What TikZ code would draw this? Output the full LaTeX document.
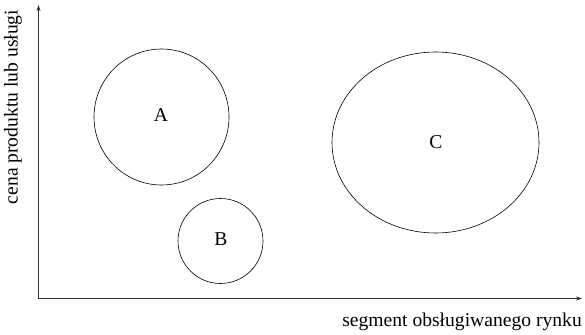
\documentclass[tikz,border=0pt]{standalone}
\usepackage{fontspec}
\setmainfont{Liberation Serif}
\usetikzlibrary{arrows.meta}
\begin{document}
\begin{tikzpicture}[x=1pt,y=-1pt,
  axis/.style={line width=0.9pt,draw=black!80,-{Stealth[length=6pt,width=4pt]}},
  blob/.style={draw,line width=0.6pt},
  lbl/.style={font=\fontsize{19.6}{22}\selectfont,inner sep=0pt}]
\useasboundingbox (0,0) rectangle (585,334);
% axes
\coordinate (O) at (38.5,298.5);
\coordinate (Ytop) at (38.5,5);
\coordinate (Xend) at (582,298.5);
\draw[axis] (O) -- (Ytop);
\draw[axis] (O) -- (Xend);
% axis labels
\node[lbl,rotate=90,anchor=center] (ylab) at (13,107) {cena produktu lub usługi};
\node[lbl,anchor=east] (xlab) at (582,322) {segment obsługiwanego rynku};
% market segments
\draw[blob] (161.5,117) ellipse [x radius=67.5,y radius=68];
\node[lbl] (A) at (161,115.5) {A};
\draw[blob] (220.5,241) circle [radius=42.5];
\node[lbl] (B) at (221,239.5) {B};
\draw[blob] (435.5,142.5) ellipse [x radius=103.5,y radius=90.5];
\node[lbl] (C) at (436,142) {C};
\end{tikzpicture}
\end{document}
